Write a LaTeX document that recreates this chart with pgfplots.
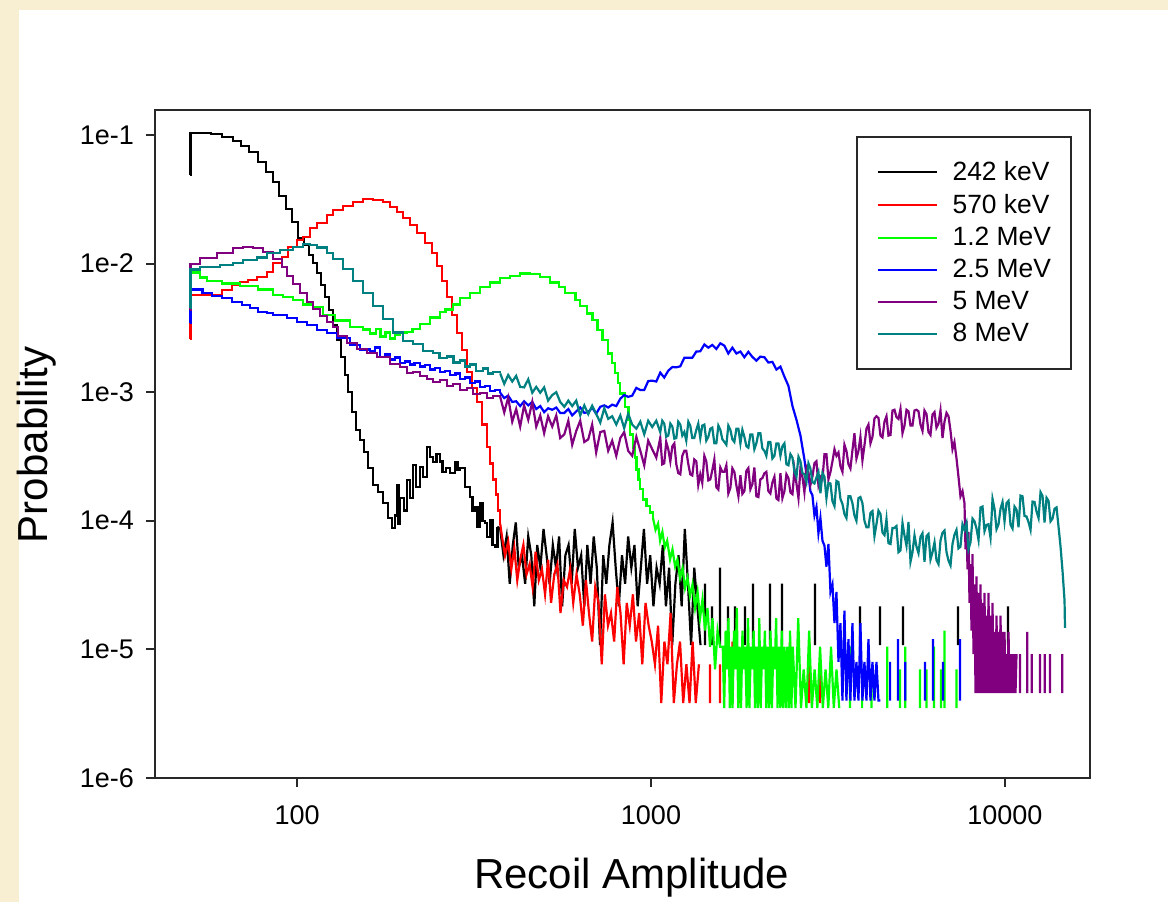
\documentclass[border=0pt]{standalone}
\usepackage{fontspec}
\setmainfont{Liberation Sans}
\usepackage{pgfplots}
\pgfplotsset{compat=1.18}
\definecolor{bgbeige}{RGB}{248,239,210}
\definecolor{cgreen}{RGB}{0,255,0}
\definecolor{cblue}{RGB}{0,0,255}
\definecolor{cred}{RGB}{255,0,0}
\definecolor{cpurple}{RGB}{128,0,128}
\definecolor{cteal}{RGB}{0,128,128}
\definecolor{axgray}{RGB}{40,40,40}
\begin{document}
\begin{tikzpicture}
\fill[bgbeige] (-77.5pt,-62pt) rectangle (506.5pt,389pt);
\fill[white] (-68pt,-62pt) rectangle (506.5pt,384pt);
\begin{axis}[
  at={(0pt,0pt)}, anchor=south west,
  scale only axis, width=467.5pt, height=334pt,
  xmode=log, ymode=log,
  xmin=39.7, xmax=17390, ymin=1e-6, ymax=0.1564,
  xtick={100,1000,10000}, xticklabels={100,1000,10000},
  ytick={1e-6,1e-5,1e-4,1e-3,1e-2,1e-1},
  yticklabels={1e-6,1e-5,1e-4,1e-3,1e-2,1e-1},
  xminorticks=false, yminorticks=false,
  tick align=outside, tick pos=left,
  major tick length=4.5pt,
  tick style={axgray, line width=1pt},
  axis line style={axgray, line width=1pt},
  tick label style={font=\fontsize{13.5}{16}\selectfont},
  xticklabel style={yshift=-6pt},
  yticklabel style={xshift=-2.5pt},
  xlabel={Recoil Amplitude}, ylabel={Probability},
  xlabel style={at={(axis description cs:0.51,-0.165)}, anchor=base, font=\fontsize{21}{25}\selectfont},
  ylabel style={at={(axis description cs:-0.1155,0.4985)}, anchor=base, font=\fontsize{21}{25}\selectfont},
  unbounded coords=jump,
  legend cell align=left,
  legend style={at={(0.9807,0.961)}, anchor=north east, draw=axgray, line width=1pt,
    font=\fontsize{13.2}{16}\selectfont, inner xsep=10pt, inner ysep=12pt, row sep=5.4pt,
    column sep=7.5pt, nodes={inner sep=0pt}},
  legend image code/.code={\draw[#1,line width=1pt] (0pt,0pt) -- (29.5pt,0pt);},
]
% 242 keV
\addplot[const plot, black, line width=1.25pt] coordinates {
(49.9,0.049) (50.0,0.1036) (57.2,0.1018) (61.4,0.0965) (65.9,0.0898) (69.5,0.0821) (73.2,0.0738) (77.6,0.0617) (81.8,0.0516) (85.5,0.0431) (89.0,0.0335) (93.1,0.0266) (96.8,0.0211) (100.7,0.0158) (104.7,0.0140) (108.1,0.0117) (111.0,0.0101) (113.9,0.00844) (116.9,0.00681) (119.9,0.0055) (123.1,0.00436) (126.4,0.00333) (129.7,0.00255) (133.1,0.00188) (136.6,0.00136) (139.3,0.0010) (143.0,0.0007) (146.8,0.00051) (150.6,0.000425) (154.6,0.000343) (158.7,0.000258) (163.9,0.00019) (169.4,0.000168) (175.0,0.000137) (180.7,0.000105) (185.5,0.000088) (189.2,0.00011) (191.7,0.00019) (193.5,0.000095) (195.4,0.00015) (200.6,0.00012) (204.6,0.000208) (208.5,0.00015) (212.7,0.000272) (216.9,0.000183) (222.6,0.000262) (227.0,0.000219) (232.9,0.000375) (237.5,0.000313) (242.2,0.000287) (247.8,0.00033) (253.5,0.00029) (258.0,0.00024) (263.6,0.000257) (270.5,0.000235) (279.5,0.000287) (284.0,0.00025) (288.7,0.000257) (298.3,0.000183) (308.1,0.000153) (313.0,0.00012) (318.3,0.000128) (323.0,0.00009) (328.8,0.000138) (334.0,0.0001) (339.7,0.000096) (344.1,0.0000748) (351.0,0.000101) (357.0,0.000065) (362.5,0.0000625) (368.0,0.00009)
};
\addlegendentry{242 keV}
\addplot[sharp plot, black, line width=1.1pt, forget plot] coordinates {
(368.0,0.00009) (375,8.64e-5) (383,5.4e-5) (391,7.56e-5) (399,3.24e-5) (407,6.48e-5) (415,9.72e-5) (423,4.32e-5) (432,5.4e-5) (441,3.24e-5) (450,7.56e-5) (459,5.4e-5) (468,2.16e-5) (477,6.48e-5) (487,4.32e-5) (497,8.64e-5) (507,5.4e-5) (517,3.24e-5) (528,6.48e-5) (539,4.32e-5) (550,7.56e-5) (561,2.16e-5) (573,5.4e-5) (585,6.48e-5) (597,3.24e-5) (609,8.64e-5) (622,4.32e-5) (635,5.4e-5) (648,2.16e-5) (661,6.48e-5) (675,3.24e-5) (689,7.56e-5) (703,4.32e-5) (718,1.08e-5) (733,5.4e-5) (748,3.24e-5) (763,6.48e-5) (779,9.72e-5) (795,4.32e-5) (811,2.16e-5) (828,5.4e-5) (845,3.24e-5) (862,7.56e-5) (880,4.32e-5) (898,6.48e-5) (917,2.16e-5) (936,4.32e-5) (955,8.64e-5) (975,3.24e-5) (995,5.4e-5) (1016,2.16e-5) (1037,4.32e-5) (1058,3.24e-5) (1080,6.48e-5) (1102,2.16e-5) (1125,4.32e-5) (1148,1.08e-5) (1172,3.24e-5) (1196,5.4e-5) (1221,2.16e-5) (1246,8.64e-5) (1272,3.24e-5) (1298,1.08e-5) (1325,4.32e-5) (1352,2.16e-5) (1380,1.08e-5) (1380,nan)
(1421,1.08e-5) (1421,3.24e-5) (1421,nan) (1487,1.08e-5) (1487,2.16e-5) (1487,nan) (1566,1.08e-5) (1566,4.32e-5) (1566,nan) (1650,1.08e-5) (1650,2.16e-5) (1650,nan) (1727,1.08e-5) (1727,2.16e-5) (1727,nan) (1843,1.08e-5) (1843,2.16e-5) (1843,nan) (1942,1.08e-5) (1942,3.24e-5) (1942,nan) (2169,1.08e-5) (2169,3.24e-5) (2169,nan) (2345,1.08e-5) (2345,3.24e-5) (2345,nan) (2906,1.08e-5) (2906,3.24e-5) (2906,nan) (3894,1.08e-5) (3894,2.16e-5) (3894,nan) (4436,1.08e-5) (4436,2.16e-5) (4436,nan) (5150,1.08e-5) (5150,2.16e-5) (5150,nan) (7366,1.08e-5) (7366,2.16e-5) (7366,nan) (10196,1.08e-5) (10196,2.16e-5)
};
% 570 keV
\addplot[const plot, cred, line width=1.25pt] coordinates {
(49.9,0.00259) (50.0,0.0057) (61.4,0.00623) (65.5,0.00682) (69.0,0.00719) (72.7,0.00746) (77.1,0.00787) (82.3,0.00861) (85.5,0.0101) (90.7,0.01125) (94.3,0.01346) (100,0.01526) (104.0,0.0161) (108.8,0.0189) (113.9,0.0207) (121.5,0.02387) (126.4,0.0261) (134.9,0.02805) (143.9,0.03013) (153.6,0.03179) (163.9,0.03122) (175.0,0.03013) (183.1,0.02755) (191.7,0.02519) (199.3,0.02262) (208.6,0.01996) (218.3,0.0173) (229.9,0.01446) (240.7,0.01209) (248.6,0.00958) (256.8,0.00732) (265.3,0.0055) (274.1,0.00398) (283.1,0.00289) (292.5,0.00213) (302.2,0.00144) (312.2,0.00108) (322.5,0.00084) (333.1,0.00056) (344.1,0.000375) (351.0,0.00028) (357.9,0.00021) (364.9,0.00016) (369.7,0.00012) (375,0.000095)
};
\addlegendentry{570 keV}
\addplot[sharp plot, cred, line width=1.1pt, forget plot] coordinates {
(375,0.000095) (379,7.66e-5) (387,5.36e-5) (395,6.89e-5) (403,4.21e-5) (411,6.13e-5) (419,3.45e-5) (427,4.98e-5) (436,6.51e-5) (445,3.83e-5) (454,4.60e-5) (463,3.06e-5) (472,5.75e-5) (482,3.45e-5) (492,4.21e-5) (502,2.68e-5) (512,4.98e-5) (522,2.30e-5) (533,3.83e-5) (544,4.60e-5) (555,1.92e-5) (567,3.45e-5) (579,3.06e-5) (591,4.21e-5) (603,2.30e-5) (616,3.83e-5)
(629,2.68e-5) (642,1.53e-5) (655,3.45e-5) (668,1.92e-5) (682,1.15e-5) (696,3.06e-5) (711,2.30e-5) (726,7.66e-6) (741,2.68e-5) (756,1.53e-5) (771,1.92e-5) (787,1.15e-5) (803,3.06e-5) (820,1.92e-5) (837,7.66e-6) (854,2.30e-5) (871,1.53e-5) (889,2.68e-5) (907,1.15e-5) (926,1.92e-5) (945,7.66e-6) (965,2.30e-5) (985,1.53e-5) (1005,1.15e-5)
(1026,7.66e-6) (1047,1.53e-5) (1069,3.83e-6) (1091,1.15e-5) (1113,7.66e-6) (1136,1.92e-5) (1160,3.83e-6) (1184,7.66e-6) (1208,1.15e-5) (1233,3.83e-6) (1259,7.66e-6) (1285,3.83e-6) (1311,1.15e-5) (1338,3.83e-6) (1366,7.66e-6) (1366,nan)
(1468,3.83e-6) (1468,7.66e-6) (1468,nan) (1567,3.83e-6) (1567,7.66e-6) (1567,nan) (1700,3.83e-6) (1700,1.15e-5) (1700,nan) (1785,3.83e-6) (1785,7.66e-6) (1785,nan) (2470,3.83e-6) (2470,1.15e-5) (2470,nan) (2800,3.83e-6) (2800,1.15e-5) (2800,nan) (3000,3.83e-6) (3000,7.66e-6)
};
% 1.2 MeV
\addplot[const plot, cgreen, line width=1.25pt] coordinates {
(49.9,0.00524) (50.0,0.0085) (53.2,0.0078) (55.7,0.0073) (61.4,0.0070) (69.0,0.0067) (77.6,0.0063) (85.5,0.0057) (91.3,0.0055) (97.4,0.0052) (104.0,0.0048) (110.9,0.0046) (118.3,0.0040) (128.1,0.0036) (141.1,0.0032) (153.6,0.00307) (160.7,0.00285) (167,0.0031) (172,0.0027) (178,0.0029) (183.1,0.00262) (189,0.0028) (195.4,0.0029) (204,0.00295) (212,0.0031) (222.5,0.0034) (237.5,0.0038) (253.5,0.0042) (263,0.0044) (276,0.0048) (289,0.0054) (308,0.0059) (329,0.0066) (351,0.0071) (375,0.0077) (400,0.0080) (427,0.0084) (455,0.0083) (486,0.0079) (519,0.0071) (549,0.0066) (572,0.0059) (612,0.0052) (630,0.0047) (660,0.0041) (684,0.00365) (706,0.00305) (730,0.00255) (756,0.0020) (775,0.00169) (791,0.00141) (808,0.00118) (818,0.00098) (844,0.00077) (863,0.00061) (873,0.00047) (890,0.00037) (900,0.00031) (909,0.00025) (921,0.00021) (931,0.000176) (950,0.000147) (970,0.00013) (994,0.000116) (1013,1.05e-4)
};
\addlegendentry{1.2 MeV}
\addplot[sharp plot, cgreen, line width=1.1pt, forget plot] coordinates {
(1013,1.05e-4) (1030,8.5e-5) (1047,9.5e-5) (1061,7.0e-5) (1077,8.2e-5) (1094,6.2e-5) (1111,7.0e-5) (1132,5.0e-5) (1150,6.0e-5) (1170,4.4e-5) (1188,5.0e-5) (1208,3.6e-5) (1228,4.3e-5) (1248,3.0e-5) (1268,3.6e-5) (1289,2.6e-5) (1310,3.2e-5) (1332,2.1e-5) (1354,2.8e-5) (1376,1.75e-5) (1398,2.45e-5) (1421,1.4e-5) (1444,2.1e-5) (1468,1.05e-5) (1492,1.75e-5) (1517,7.0e-6) (1542,1.4e-5) (1567,1.05e-5)
(1595,1.05e-5) (1610,3.5e-6) (1625,1.4e-5) (1640,7.0e-6) (1655,1.75e-5) (1670,3.5e-6) (1685,1.05e-5) (1700,3.5e-6) (1716,1.4e-5) (1732,7.0e-6) (1748,2.1e-5) (1764,3.5e-6) (1780,1.05e-5) (1796,3.5e-6) (1813,1.4e-5) (1830,7.0e-6) (1846,1.05e-5) (1863,3.5e-6) (1880,1.75e-5) (1897,3.5e-6) (1915,1.05e-5) (1932,7.0e-6) (1950,1.4e-5) (1968,3.5e-6) (1986,1.05e-5) (2004,3.5e-6) (2023,1.75e-5) (2041,3.5e-6) (2060,1.05e-5) (2079,7.0e-6) (2098,1.4e-5) (2117,3.5e-6) (2137,1.05e-5) (2156,3.5e-6) (2176,1.4e-5) (2196,3.5e-6) (2216,1.05e-5) (2237,7.0e-6) (2257,1.75e-5) (2278,3.5e-6) (2299,1.05e-5) (2320,3.5e-6) (2341,1.4e-5) (2362,3.5e-6) (2384,1.05e-5) (2406,3.5e-6) (2428,1.05e-5) (2450,3.5e-6) (2471,1.4e-5) (2493,3.5e-6)
(2515,1.05e-5) (2560,3.5e-6) (2606,1.75e-5) (2653,3.5e-6) (2700,7.0e-6) (2749,3.5e-6) (2798,1.4e-5) (2848,3.5e-6) (2899,7.0e-6) (2951,3.5e-6) (3004,1.05e-5) (3058,3.5e-6) (3113,7.0e-6) (3169,3.5e-6) (3226,1.05e-5) (3284,3.5e-6) (3343,7.0e-6) (3403,3.5e-6) (3403,nan)
(3651,3.5e-6) (3651,1.05e-5) (3651,nan) (3950,3.5e-6) (3950,7.0e-6) (3950,nan) (4200,3.5e-6) (4200,7.0e-6) (4200,nan) (4650,3.5e-6) (4650,1.05e-5) (4650,nan) (5055,3.5e-6) (5055,7.0e-6) (5055,nan) (5230,3.5e-6) (5230,1.05e-5) (5230,nan) (5757,3.5e-6) (5757,7.0e-6) (5757,nan) (6000,3.5e-6) (6000,7.0e-6) (6000,nan) (6300,3.5e-6) (6300,1.05e-5) (6300,nan) (6600,3.5e-6) (6600,7.0e-6) (6600,nan) (6750,3.5e-6) (6750,1.4e-5) (6750,nan) (7300,3.5e-6) (7300,7.0e-6)
};
% 2.5 MeV
\addplot[const plot, cblue, line width=1.25pt] coordinates {
(49.9,0.00345) (50.0,0.00627) (54.0,0.00591) (57.5,0.0056) (61.4,0.00539) (65.5,0.00503) (69.9,0.00477) (73.7,0.00452) (77.6,0.0042) (82.3,0.00413) (85.5,0.00399) (93.7,0.00377) (100,0.00352) (106.7,0.00333) (113.9,0.00305) (121.5,0.00288) (129.7,0.00263) (141.1,0.00232) (150.6,0.00214) (160.7,0.00208) (166,0.00222) (171.5,0.00188) (177,0.00196) (183.1,0.00179) (189,0.00186) (195.4,0.00169) (202,0.00174) (208.5,0.00164) (215,0.00168) (222.5,0.00158) (230,0.00162) (237.5,0.0015) (245,0.00154) (253.5,0.00144) (262,0.00146) (270.5,0.00136) (280,0.0014) (288.7,0.00127) (298,0.0013) (308.1,0.00118) (318,0.00121) (328.8,0.0011) (340,0.00112) (350.9,0.00102) (362,0.00104) (375,9.9e-4)
};
\addlegendentry{2.5 MeV}
\addplot[sharp plot, cblue, line width=1.1pt, forget plot] coordinates {
(375,9.9e-4) (385,9.0e-4) (395,9.4e-4) (405.5,8.4e-4) (416,8.5e-4) (427,7.8e-4) (438,8.5e-4) (450,7.9e-4) (462,8.4e-4) (474,7.4e-4) (486.5,7.8e-4) (499,7.0e-4) (512,7.5e-4) (526,7.3e-4) (540,7.6e-4) (554,6.9e-4) (569,6.9e-4) (584,7.4e-4) (599,6.6e-4) (615,7.1e-4) (631,7.6e-4) (648,6.9e-4) (665,7.0e-4) (682,7.6e-4) (700,6.8e-4) (719,7.7e-4) (738,7.9e-4) (757,7.6e-4) (777,8.0e-4) (798,7.8e-4) (819,8.9e-4) (840,9.5e-4) (862,9.2e-4) (885,9.4e-4) (909,1.08e-3) (933,1.04e-3) (957,1.04e-3) (982,1.22e-3) (1008,1.23e-3) (1035,1.21e-3) (1062,1.42e-3) (1090,1.30e-3) (1119,1.47e-3) (1149,1.57e-3) (1179,1.56e-3) (1210,1.59e-3) (1242,1.85e-3) (1275,1.85e-3) (1308,1.85e-3) (1343,2.07e-3) (1378,2.08e-3) (1415,2.35e-3) (1452,2.22e-3) (1490,2.33e-3) (1530,2.17e-3) (1570,2.4e-3) (1612,2.3e-3) (1654,2.0e-3) (1698,2.22e-3) (1743,2.0e-3) (1789,2.07e-3) (1836,1.87e-3) (1884,2.06e-3) (1934,1.88e-3) (1985,1.76e-3) (2037,1.89e-3) (2091,1.87e-3) (2146,1.7e-3) (2203,1.72e-3) (2261,1.5e-3) (2321,1.58e-3) (2382,1.32e-3) (2445,1.12e-3) (2510,7.8e-4) (2576,6.1e-4) (2644,4.6e-4) (2713,3.0e-4) (2749,2.3e-4) (2785,2.25e-4) (2821,1.7e-4) (2858,1.58e-4) (2896,1.1e-4) (2934,1.28e-4) (2972,8.0e-5) (3011,1.05e-4) (3051,7.0e-5) (3091,6.4e-5) (3131,4.4e-5) (3172,6.6e-5) (3214,2.8e-5) (3256,3.2e-5) (3299,1.6e-5) (3342,2.8e-5) (3386,8e-6) (3430,1.6e-5) (3475,4e-6) (3520,2.0e-5) (3566,4e-6) (3613,1.2e-5) (3660,4e-6) (3708,1.6e-5) (3757,4e-6) (3806,8e-6) (3856,4e-6) (3906,1.6e-5) (3957,4e-6) (4009,8e-6) (4062,4e-6) (4115,1.2e-5) (4169,4e-6) (4224,8e-6) (4279,4e-6) (4335,8e-6) (4392,4e-6) (4449,4e-6) (4449,nan)
(4737,4e-6) (4737,8e-6) (4737,nan) (4990,4e-6) (4990,1.2e-5) (4990,nan) (5230,4e-6) (5230,8e-6) (5230,nan) (5947,4e-6) (5947,8e-6) (5947,nan) (6265,4e-6) (6265,1.2e-5) (6265,nan) (6686,4e-6) (6686,8e-6) (6686,nan) (7468,4e-6) (7468,1.2e-5)
};
% 5 MeV
\addplot[const plot, cpurple, line width=1.25pt] coordinates {
(49.9,0.00436) (50.0,0.00993) (53.2,0.01105) (59.4,0.0121) (65.9,0.0132) (70.4,0.01346) (75.1,0.0132) (80.2,0.0123) (85.5,0.01085) (90.7,0.00941) (93.7,0.00802) (97.4,0.00695) (102.0,0.00591) (106.7,0.00503) (111.0,0.00444) (116.1,0.00392) (121.5,0.00352) (126.4,0.00322) (130.5,0.00274) (138.4,0.00242) (147.7,0.00217) (157.6,0.00202) (168.3,0.00188) (183.1,0.00166) (195.4,0.00157) (204.6,0.00141) (212.7,0.00144) (222.5,0.00134) (232.9,0.00127) (242.2,0.0012) (253.5,0.00124) (265.3,0.00112) (275.9,0.00116) (288.7,0.00104) (302.2,0.00108) (314.2,0.00097) (328.8,0.00099) (344.1,0.0009) (357.9,0.000935) (375,9.2e-4)
};
\addlegendentry{5 MeV}
\addplot[sharp plot, cpurple, line width=1.1pt, forget plot] coordinates {
(375,9.2e-4) (385,6.96e-4) (395,9.1e-4) (405.5,5.9e-4) (416,7.4e-4) (427,5.4e-4) (438,7.9e-4) (450,6.1e-4) (462,8.4e-4) (474,5.4e-4) (486.5,6.6e-4) (499,4.8e-4) (512,6.5e-4) (526,5.4e-4) (540,6.6e-4) (554,4.4e-4) (569,4.7e-4) (584,6.0e-4) (599,3.9e-4) (615,5.0e-4) (631,6.0e-4) (648,4.1e-4) (665,4.3e-4) (682,5.6e-4) (700,3.4e-4) (719,4.9e-4) (738,5.0e-4) (757,3.5e-4) (777,4.2e-4) (798,3.2e-4) (819,4.4e-4) (840,4.9e-4) (862,3.5e-4) (885,3.2e-4) (909,4.5e-4) (933,3.5e-4) (957,2.7e-4) (982,4.2e-4) (1008,3.6e-4) (1035,3.1e-4)
(1062,4.4e-4) (1076,2.75e-4) (1090,2.8e-4) (1104,4.1e-4) (1119,3.6e-4) (1134,2.9e-4) (1149,3.8e-4) (1164,4.0e-4) (1179,2.75e-4) (1194,2.35e-4) (1210,2.3e-4) (1226,3.2e-4) (1242,3.5e-4) (1258,3.5e-4) (1275,2.75e-4) (1291,2.3e-4) (1308,2.25e-4) (1325,3.0e-4) (1343,2.9e-4) (1360,1.9e-4) (1378,2.3e-4) (1396,1.97e-4) (1415,3.2e-4) (1433,2.9e-4) (1452,2.06e-4) (1471,2.1e-4) (1490,2.47e-4) (1510,3.0e-4) (1530,1.82e-4) (1550,1.75e-4) (1570,2.6e-4) (1591,2.4e-4) (1612,2.4e-4) (1633,2.7e-4) (1654,1.63e-4) (1676,1.8e-4) (1698,2.56e-4) (1720,2.4e-4) (1743,1.88e-4) (1766,1.55e-4) (1789,2.26e-4) (1812,1.62e-4) (1836,1.7e-4) (1860,2.45e-4) (1884,2.57e-4) (1909,1.76e-4) (1934,1.93e-4) (1959,2.6e-4) (1985,1.55e-4) (2011,1.53e-4) (2037,2.1e-4) (2064,2.15e-4) (2091,2.34e-4) (2118,2.4e-4) (2146,1.7e-4) (2174,1.63e-4) (2203,1.99e-4) (2232,2.2e-4) (2261,1.49e-4) (2291,1.45e-4) (2321,2.34e-4) (2351,1.5e-4) (2382,1.7e-4) (2413,2.3e-4) (2445,2.14e-4) (2477,1.66e-4) (2510,1.61e-4) (2543,2.5e-4) (2576,1.95e-4) (2610,1.5e-4) (2644,2.56e-4) (2678,2.2e-4) (2713,1.67e-4) (2749,2.6e-4) (2785,2.38e-4) (2821,1.9e-4) (2858,2.2e-4) (2896,2.8e-4) (2934,2.9e-4) (2972,1.9e-4) (3011,2.2e-4) (3051,2.1e-4) (3091,3.3e-4) (3131,3.3e-4) (3172,2.1e-4) (3214,2.4e-4) (3256,2.9e-4) (3299,3.6e-4)
(3342,3.2e-4) (3386,3.4e-4) (3430,2.65e-4) (3475,2.4e-4) (3520,3.9e-4) (3566,3.5e-4) (3613,2.75e-4) (3660,2.55e-4) (3708,3.53e-4) (3757,4.8e-4) (3806,3.05e-4) (3856,3.5e-4) (3906,4.5e-4) (3957,2.95e-4) (4009,3.85e-4) (4062,5.2e-4) (4115,5.6e-4) (4169,4.0e-4) (4224,4.5e-4) (4279,6.25e-4) (4335,6.5e-4) (4392,6.3e-4) (4449,4.6e-4) (4508,4.45e-4) (4567,5.9e-4) (4627,6.5e-4) (4687,4.6e-4) (4749,4.65e-4) (4811,7.2e-4) (4874,7.3e-4) (4938,6.4e-4) (5003,6.2e-4) (5068,7.4e-4) (5135,4.8e-4) (5202,5.5e-4) (5270,7.3e-4) (5339,7.1e-4) (5409,5.5e-4) (5480,5.5e-4) (5552,7.2e-4) (5624,7.3e-4) (5698,7.1e-4) (5773,5.6e-4) (5848,5.0e-4) (5925,7.2e-4) (6003,6.75e-4) (6081,4.9e-4) (6161,4.65e-4) (6242,6.7e-4) (6324,7.0e-4) (6406,5.3e-4) (6490,5.7e-4) (6575,7.2e-4) (6662,4.4e-4) (6749,5.9e-4) (6838,6.9e-4) (6927,6.5e-4) (7018,5.0e-4) (7109,3.6e-4) (7200,4.1e-4) (7297,3.06e-4) (7392,2.2e-4) (7489,1.55e-4) (7587,1.7e-4)
(7687,1.37e-4) (7738,6.0e-5) (7788,1.0e-4) (7839,4.2e-5) (7890,8.2e-5) (7941,2.3e-5) (7993,4.6e-5) (8045,1.4e-5) (8098,5.5e-5) (8150,9.2e-6) (8203,3.2e-5) (8257,4.58e-6) (8311,3.7e-5) (8365,4.58e-6) (8419,2.75e-5) (8474,4.58e-6) (8530,3.2e-5) (8585,4.58e-6) (8641,2.3e-5) (8698,4.58e-6) (8755,2.75e-5) (8812,4.58e-6) (8870,1.83e-5) (8928,4.58e-6) (8986,2.75e-5) (9045,4.58e-6) (9104,1.83e-5) (9163,4.58e-6) (9223,2.3e-5) (9283,4.58e-6) (9344,1.37e-5) (9405,4.58e-6) (9466,1.83e-5) (9528,4.58e-6) (9590,1.37e-5) (9653,4.58e-6) (9716,1.83e-5) (9779,4.58e-6) (9843,1.37e-5) (9907,4.58e-6) (9972,1.37e-5) (10037,4.58e-6) (10103,9.2e-6) (10169,4.58e-6) (10235,1.37e-5) (10302,4.58e-6) (10370,9.2e-6) (10437,4.58e-6) (10505,9.2e-6) (10572,4.58e-6) (10640,9.2e-6) (10711,4.58e-6) (10782,9.2e-6) (10782,nan)
(11033,4.58e-6) (11033,9.2e-6) (11033,nan) (11560,4.58e-6) (11560,1.37e-5) (11560,nan) (11900,4.58e-6) (11900,9.2e-6) (11900,nan) (12565,4.58e-6) (12565,9.2e-6) (12565,nan) (12960,4.58e-6) (12960,9.2e-6) (12960,nan) (13410,4.58e-6) (13410,9.2e-6) (13410,nan) (14520,4.58e-6) (14520,9.2e-6)
};
% 8 MeV
\addplot[const plot, cteal, line width=1.25pt] coordinates {
(49.9,0.00452) (50.0,0.00896) (53.2,0.00941) (60.6,0.00975) (66.0,0.0101) (70.4,0.0107) (77.1,0.0112) (82.3,0.0121) (89.5,0.0128) (97.4,0.0135) (104.0,0.0142) (108.8,0.0140) (113.9,0.0133) (121.5,0.0121) (126.4,0.0109) (134.9,0.0091) (143.9,0.00735) (153.6,0.0059) (163.9,0.00466) (175.0,0.00371) (186.7,0.0029) (199.3,0.0025) (212.7,0.00238) (227.0,0.0021) (242.2,0.00202) (253,0.00185) (265.3,0.0019) (277,0.0017) (288.7,0.00176) (298,0.00158) (308.1,0.00164) (320,0.00146) (335.5,0.00153) (346,0.0014) (358,0.00144) (375,1.40e-3)
};
\addlegendentry{8 MeV}
\addplot[sharp plot, cteal, line width=1.1pt, forget plot] coordinates {
(375,1.40e-3) (385,1.16e-3) (395,1.36e-3) (405.5,1.21e-3) (416,1.34e-3) (427,1.10e-3) (438,1.09e-3) (450,1.26e-3) (462,9.9e-4) (474,1.10e-3) (486.5,9.9e-4) (499,1.09e-3) (512,8.6e-4) (526,9.5e-4) (540,1.0e-3) (554,8.4e-4) (569,7.7e-4) (584,8.6e-4) (599,7.8e-4) (615,8.6e-4) (631,6.6e-4) (648,7.9e-4) (665,6.75e-4) (682,7.85e-4) (700,6.8e-4) (719,5.8e-4) (738,7.5e-4) (757,6.2e-4) (777,6.5e-4) (798,5.6e-4) (819,6.6e-4) (840,5.25e-4) (862,6.8e-4) (885,5.6e-4) (909,5.2e-4) (933,5.9e-4) (957,4.7e-4) (982,6.0e-4) (1008,5.36e-4) (1035,6.0e-4)
(1062,4.9e-4) (1076,6.0e-4) (1090,5.7e-4) (1104,4.5e-4) (1119,4.6e-4) (1134,5.7e-4) (1149,5.4e-4) (1164,4.35e-4) (1179,4.4e-4) (1194,5.9e-4) (1210,5.6e-4) (1226,4.6e-4) (1242,4.9e-4) (1258,4.2e-4) (1275,5.9e-4) (1291,5.5e-4) (1308,4.4e-4) (1325,4.4e-4) (1343,5.1e-4) (1360,5.7e-4) (1378,4.4e-4) (1396,5.5e-4) (1415,5.6e-4) (1433,4.2e-4) (1452,4.5e-4) (1471,5.2e-4) (1490,5.3e-4) (1510,4.0e-4) (1530,4.0e-4) (1550,5.5e-4) (1570,5.1e-4) (1591,4.3e-4) (1612,4.1e-4) (1633,3.9e-4) (1654,5.5e-4) (1676,5.1e-4) (1698,4.3e-4) (1720,4.1e-4) (1743,5.2e-4) (1766,5.2e-4) (1789,4.0e-4) (1812,5.1e-4) (1836,4.5e-4) (1860,3.8e-4) (1884,3.7e-4) (1909,4.7e-4) (1934,4.7e-4) (1959,3.6e-4) (1985,4.0e-4) (2011,4.8e-4) (2037,4.8e-4) (2064,3.65e-4) (2091,3.5e-4) (2118,3.2e-4) (2146,4.1e-4) (2174,4.1e-4) (2203,3.05e-4) (2232,3.2e-4) (2261,4.0e-4) (2291,4.0e-4) (2321,3.2e-4) (2351,3.8e-4) (2382,4.0e-4) (2413,2.75e-4) (2445,2.7e-4) (2477,3.3e-4) (2510,3.1e-4) (2543,2.4e-4) (2576,2.2e-4) (2610,3.15e-4) (2644,2.9e-4) (2678,2.35e-4) (2713,2.3e-4) (2749,2.0e-4) (2785,2.8e-4) (2821,2.55e-4) (2858,2.0e-4) (2896,1.95e-4) (2934,2.17e-4) (2972,2.4e-4) (3011,1.64e-4) (3051,2.35e-4) (3091,2.2e-4) (3131,1.5e-4) (3172,1.97e-4) (3214,1.95e-4) (3256,1.42e-4) (3299,1.3e-4) (3342,2.04e-4) (3386,2.0e-4) (3430,1.48e-4) (3475,1.35e-4) (3520,1.13e-4) (3566,1.05e-4) (3613,1.55e-4) (3660,1.55e-4) (3708,1.37e-4) (3757,1.1e-4) (3806,1.0e-4) (3856,1.5e-4) (3906,1.53e-4) (3957,1.37e-4) (4009,1.0e-4) (4062,8.9e-5) (4115,8.9e-5) (4169,1.15e-4) (4224,1.19e-4) (4279,7.6e-5) (4335,9.4e-5) (4392,1.2e-4) (4449,1.13e-4) (4508,8.1e-5)
(4567,7.75e-5) (4627,1.03e-4) (4687,6.7e-5) (4749,6.6e-5) (4811,8.8e-5) (4874,8.8e-5) (4938,9.1e-5) (5003,5.7e-5) (5068,5.9e-5) (5135,9.6e-5) (5202,7.7e-5) (5270,6.4e-5) (5339,9.8e-5) (5409,4.8e-5) (5480,5.7e-5) (5552,7.7e-5) (5624,6.3e-5) (5698,5.6e-5) (5773,7.5e-5) (5848,8.0e-5) (5925,4.8e-5) (6003,7.6e-5) (6081,7.9e-5) (6161,5.0e-5) (6242,5.7e-5) (6324,6.8e-5) (6406,4.95e-5) (6490,4.6e-5) (6575,7.0e-5) (6662,8.1e-5) (6749,8.4e-5) (6838,5.7e-5) (6927,4.9e-5) (7018,4.5e-5) (7109,6.6e-5) (7202,7.8e-5) (7297,8.5e-5) (7392,6.1e-5) (7489,6.3e-5) (7587,9.4e-5) (7687,8.5e-5) (7788,9.6e-5) (7890,6.0e-5) (7993,6.8e-5) (8098,1.04e-4) (8204,9.9e-5) (8311,8.7e-5) (8420,7.1e-5) (8530,1.27e-4) (8642,1.29e-4) (8755,8.3e-5) (8870,9.3e-5) (8986,9.4e-5) (9104,7.4e-5) (9223,1.48e-4) (9344,1.24e-4) (9466,8.6e-5) (9590,9.4e-5) (9716,1.24e-4) (9843,1.4e-4) (9972,9.9e-5) (10103,1.37e-4) (10235,1.43e-4) (10370,9.3e-5) (10505,8.7e-5) (10643,1.29e-4) (10782,1.22e-4) (10923,8.9e-5) (11066,1.57e-4) (11211,1.55e-4) (11358,1.09e-4) (11507,1.08e-4) (11658,9.75e-5) (11811,8.5e-5) (11965,1.41e-4) (12122,1.4e-4) (12281,1.18e-4) (12442,1.05e-4) (12605,1.67e-4) (12770,1.56e-4) (12937,9.7e-5) (13107,1.51e-4) (13278,1.43e-4) (13452,9.9e-5) (13628,1.04e-4) (13807,1.24e-4) (13988,1.27e-4) (14170,9.0e-5) (14357,6.3e-5) (14550,4.0e-5) (14735,2.4e-5) (14780,1.47e-5)
};
\end{axis}
\end{tikzpicture}
\end{document}
